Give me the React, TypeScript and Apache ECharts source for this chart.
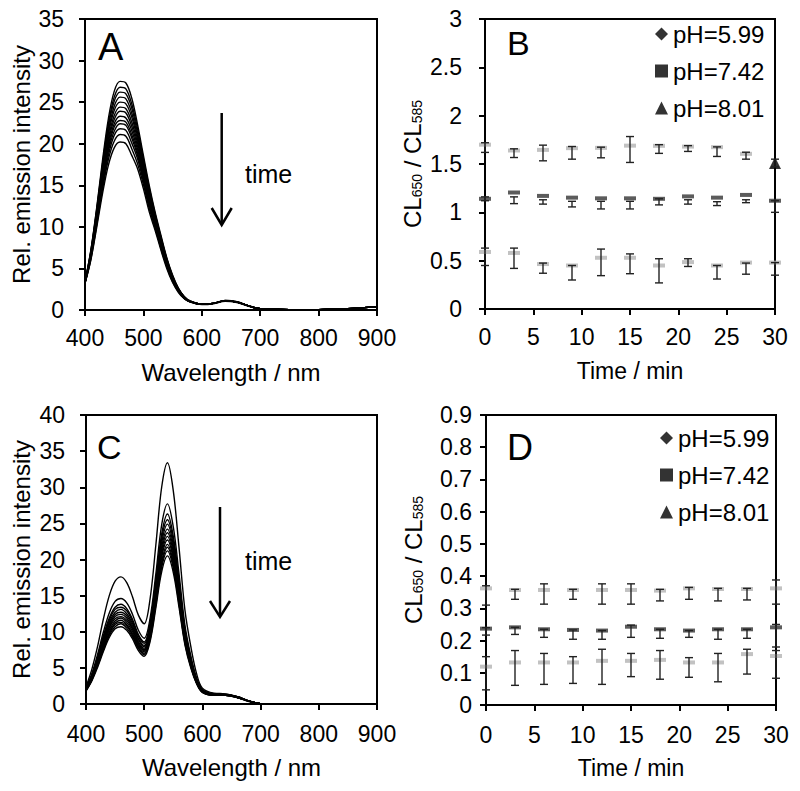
import React, { useEffect, useRef } from "react";
import * as echarts from "echarts";

const FONT = "Liberation Sans, Arial, Helvetica, sans-serif";

// ---------- Panel A: emission spectra ----------
const WAVELENGTH_A = [400, 410, 420, 430, 440, 450, 460, 470, 480, 490, 500, 510, 520, 530, 540, 550, 560, 570, 580, 600, 620, 640, 660, 680, 700, 750, 800, 850, 900];
const A_01 = [3.4, 7.2, 12.3, 18.0, 23.0, 26.3, 27.5, 27.3, 25.5, 22.3, 18.6, 15.0, 11.8, 9.0, 6.3, 4.2, 2.6, 1.6, 1.1, 0.7, 0.8, 1.15, 1.0, 0.5, 0.15, 0.05, 0.05, 0.15, 0.4];
const A_02 = [3.4, 7.1, 12.1, 17.6, 22.4, 25.6, 26.8, 26.6, 24.8, 21.8, 18.2, 14.7, 11.6, 8.8, 6.2, 4.1, 2.6, 1.6, 1.1, 0.7, 0.8, 1.15, 1.0, 0.5, 0.15, 0.05, 0.05, 0.15, 0.4];
const A_03 = [3.4, 7.0, 11.9, 17.3, 22.0, 25.1, 26.2, 26.0, 24.3, 21.3, 17.9, 14.4, 11.4, 8.7, 6.1, 4.0, 2.5, 1.6, 1.0, 0.7, 0.8, 1.1, 0.95, 0.5, 0.15, 0.05, 0.05, 0.15, 0.4];
const A_04 = [3.3, 6.9, 11.7, 17.0, 21.5, 24.5, 25.6, 25.4, 23.7, 20.9, 17.6, 14.2, 11.2, 8.5, 6.0, 4.0, 2.5, 1.5, 1.0, 0.7, 0.8, 1.1, 0.95, 0.5, 0.15, 0.05, 0.05, 0.15, 0.4];
const A_05 = [3.3, 6.8, 11.5, 16.6, 21.1, 24.0, 25.0, 24.8, 23.2, 20.5, 17.2, 13.9, 11.1, 8.4, 5.9, 3.9, 2.4, 1.5, 1.0, 0.7, 0.8, 1.1, 0.95, 0.5, 0.15, 0.05, 0.05, 0.15, 0.4];
const A_06 = [3.3, 6.7, 11.3, 16.3, 20.6, 23.4, 24.4, 24.2, 22.6, 20.1, 16.9, 13.7, 10.9, 8.2, 5.8, 3.8, 2.4, 1.5, 1.0, 0.7, 0.8, 1.1, 0.95, 0.5, 0.15, 0.05, 0.05, 0.15, 0.4];
const A_07 = [3.3, 6.6, 11.1, 16.0, 20.2, 22.9, 23.9, 23.7, 22.1, 19.7, 16.6, 13.4, 10.7, 8.1, 5.7, 3.8, 2.4, 1.5, 1.0, 0.7, 0.8, 1.1, 0.95, 0.5, 0.15, 0.05, 0.05, 0.15, 0.4];
const A_08 = [3.3, 6.5, 10.9, 15.7, 19.8, 22.4, 23.3, 23.1, 21.6, 19.3, 16.3, 13.2, 10.5, 8.0, 5.6, 3.7, 2.3, 1.5, 1.0, 0.7, 0.8, 1.1, 0.95, 0.5, 0.15, 0.05, 0.05, 0.15, 0.4];
const A_09 = [3.3, 6.4, 10.8, 15.4, 19.4, 22.0, 22.8, 22.6, 21.1, 18.9, 16.0, 13.0, 10.4, 7.8, 5.5, 3.6, 2.3, 1.4, 1.0, 0.7, 0.8, 1.1, 0.95, 0.5, 0.15, 0.05, 0.05, 0.15, 0.4];
const A_10 = [3.3, 6.4, 10.6, 15.2, 19.1, 21.5, 22.4, 22.2, 20.7, 18.6, 15.8, 12.8, 10.3, 7.7, 5.4, 3.6, 2.3, 1.4, 1.0, 0.7, 0.8, 1.1, 0.95, 0.5, 0.15, 0.05, 0.05, 0.15, 0.4];
const A_11 = [3.2, 6.3, 10.4, 14.9, 18.6, 21.0, 21.8, 21.6, 20.1, 18.2, 15.5, 12.5, 10.1, 7.6, 5.3, 3.5, 2.2, 1.4, 1.0, 0.7, 0.8, 1.1, 0.95, 0.5, 0.15, 0.05, 0.05, 0.15, 0.4];
const A_12 = [3.2, 6.1, 10.2, 14.5, 18.1, 20.3, 21.1, 20.9, 19.4, 17.6, 15.1, 12.2, 9.9, 7.4, 5.2, 3.4, 2.2, 1.4, 1.0, 0.7, 0.8, 1.1, 0.95, 0.5, 0.15, 0.05, 0.05, 0.15, 0.4];
const A_13 = [3.2, 6.0, 9.9, 14.0, 17.4, 19.5, 20.2, 20.0, 18.6, 17.0, 14.6, 11.8, 9.6, 7.2, 5.0, 3.3, 2.1, 1.35, 0.95, 0.65, 0.75, 1.05, 0.9, 0.45, 0.12, 0.05, 0.05, 0.15, 0.4];
const SPECTRA_A = [A_01, A_02, A_03, A_04, A_05, A_06, A_07, A_08, A_09, A_10, A_11, A_12, A_13];

// ---------- Panel C: emission spectra ----------
const WAVELENGTH_C = [400, 410, 420, 430, 440, 450, 460, 470, 480, 490, 500, 510, 520, 530, 540, 550, 560, 570, 580, 590, 600, 620, 640, 660, 680, 700, 750, 800, 850, 900];
const C_01 = [2.4, 4.8, 8.0, 11.8, 15.0, 17.0, 17.6, 16.8, 14.8, 12.3, 11.1, 14.5, 22.0, 30.0, 33.4, 29.5, 21.5, 13.0, 8.0, 4.2, 2.2, 1.5, 1.4, 1.0, 0.4, 0.05, 0, 0, 0, 0.05];
const C_02 = [2.2, 4.2, 6.9, 10.0, 12.6, 14.2, 14.6, 14.0, 12.4, 10.2, 9.1, 11.8, 18.0, 24.8, 27.7, 24.5, 17.9, 10.9, 6.7, 3.6, 2.0, 1.4, 1.35, 1.0, 0.4, 0.05, 0, 0, 0, 0.05];
const C_03 = [2.1, 4.0, 6.5, 9.5, 11.9, 13.4, 13.8, 13.2, 11.7, 9.6, 8.6, 11.2, 17.1, 23.5, 26.3, 23.2, 17.0, 10.4, 6.4, 3.4, 1.9, 1.4, 1.3, 1.0, 0.4, 0.05, 0, 0, 0, 0.05];
const C_04 = [2.1, 3.9, 6.4, 9.2, 11.6, 13.1, 13.4, 12.9, 11.4, 9.4, 8.4, 10.8, 16.6, 22.9, 25.5, 22.6, 16.5, 10.1, 6.2, 3.4, 1.9, 1.3, 1.3, 1.0, 0.4, 0.05, 0, 0, 0, 0.05];
const C_05 = [2.0, 3.8, 6.2, 8.9, 11.3, 12.7, 13.1, 12.5, 11.1, 9.1, 8.1, 10.6, 16.2, 22.3, 24.9, 22.0, 16.1, 9.9, 6.0, 3.3, 1.8, 1.3, 1.3, 1.0, 0.4, 0.05, 0, 0, 0, 0.05];
const C_06 = [2.0, 3.7, 6.0, 8.7, 11.0, 12.4, 12.7, 12.2, 10.8, 8.9, 7.9, 10.3, 15.7, 21.7, 24.2, 21.5, 15.7, 9.6, 5.9, 3.2, 1.8, 1.3, 1.3, 1.0, 0.4, 0.05, 0, 0, 0, 0.05];
const C_07 = [2.0, 3.6, 5.9, 8.5, 10.7, 12.1, 12.4, 11.9, 10.5, 8.6, 7.7, 10.0, 15.4, 21.2, 23.7, 21.0, 15.3, 9.4, 5.7, 3.2, 1.8, 1.3, 1.3, 0.9, 0.4, 0.05, 0, 0, 0, 0.05];
const C_08 = [1.9, 3.6, 5.8, 8.3, 10.5, 11.8, 12.1, 11.6, 10.3, 8.4, 7.5, 9.8, 15.0, 20.7, 23.2, 20.5, 15.0, 9.2, 5.6, 3.1, 1.7, 1.3, 1.3, 0.9, 0.4, 0.05, 0, 0, 0, 0.05];
const C_09 = [1.9, 3.5, 5.6, 8.1, 10.2, 11.5, 11.9, 11.3, 10.0, 8.2, 7.4, 9.6, 14.7, 20.3, 22.7, 20.1, 14.7, 9.0, 5.5, 3.0, 1.7, 1.3, 1.2, 0.9, 0.4, 0.05, 0, 0, 0, 0.05];
const C_10 = [1.9, 3.4, 5.5, 7.9, 9.9, 11.2, 11.6, 11.0, 9.7, 8.0, 7.2, 9.3, 14.3, 19.7, 22.1, 19.6, 14.3, 8.8, 5.4, 3.0, 1.7, 1.2, 1.2, 0.9, 0.4, 0.05, 0, 0, 0, 0.05];
const C_11 = [1.9, 3.4, 5.4, 7.7, 9.7, 11.0, 11.3, 10.8, 9.5, 7.8, 7.0, 9.1, 14.1, 19.3, 21.7, 19.2, 14.0, 8.6, 5.3, 2.9, 1.7, 1.2, 1.2, 0.9, 0.4, 0.05, 0, 0, 0, 0.05];
const C_12 = [1.8, 3.3, 5.3, 7.5, 9.5, 10.7, 11.1, 10.5, 9.3, 7.7, 6.8, 8.9, 13.7, 18.9, 21.2, 18.8, 13.7, 8.4, 5.2, 2.9, 1.6, 1.2, 1.2, 0.9, 0.4, 0.05, 0, 0, 0, 0.05];
const C_13 = [1.8, 3.2, 5.1, 7.3, 9.2, 10.4, 10.7, 10.2, 9.0, 7.4, 6.6, 8.6, 13.3, 18.3, 20.5, 18.2, 13.3, 8.2, 5.0, 2.8, 1.6, 1.2, 1.2, 0.9, 0.35, 0.05, 0, 0, 0, 0.05];
const SPECTRA_C = [C_01, C_02, C_03, C_04, C_05, C_06, C_07, C_08, C_09, C_10, C_11, C_12, C_13];

// ---------- Panels B and D: ratio vs time ----------
const TIME_MIN = [0, 3, 6, 9, 12, 15, 18, 21, 24, 27, 30];
const PH_LABELS = ["pH=5.99", "pH=7.42", "pH=8.01"];

const B_PH599_MEAN = [0.59, 0.58, 0.465, 0.45, 0.53, 0.53, 0.45, 0.485, 0.45, 0.48, 0.48];
const B_PH599_LOW = [0.45, 0.42, 0.37, 0.3, 0.345, 0.365, 0.27, 0.44, 0.31, 0.36, 0.35];
const B_PH599_HIGH = [0.63, 0.63, 0.475, 0.45, 0.62, 0.57, 0.52, 0.52, 0.45, 0.475, 0.48];
const B_PH742_MEAN = [1.14, 1.205, 1.17, 1.152, 1.145, 1.145, 1.14, 1.165, 1.152, 1.18, 1.12];
const B_PH742_LOW = [1.12, 1.09, 1.085, 1.056, 1.035, 1.035, 1.077, 1.085, 1.07, 1.1, 1.0];
const B_PH742_HIGH = [1.16, 1.16, 1.13, 1.114, 1.114, 1.114, 1.14, 1.13, 1.11, 1.13, 1.12];
const B_PH801_MEAN = [1.7, 1.64, 1.646, 1.664, 1.667, 1.69, 1.688, 1.68, 1.674, 1.605, 1.51];
const B_PH801_LOW = [1.62, 1.567, 1.533, 1.55, 1.564, 1.516, 1.61, 1.63, 1.578, 1.55, 1.47];
const B_PH801_HIGH = [1.72, 1.657, 1.695, 1.681, 1.674, 1.784, 1.7, 1.69, 1.677, 1.622, 1.55];

const D_PH599_MEAN = [0.119, 0.132, 0.132, 0.132, 0.137, 0.137, 0.14, 0.132, 0.132, 0.158, 0.152];
const D_PH599_LOW = [0.047, 0.061, 0.064, 0.067, 0.064, 0.088, 0.08, 0.086, 0.072, 0.096, 0.083];
const D_PH599_HIGH = [0.15, 0.169, 0.16, 0.15, 0.173, 0.16, 0.169, 0.147, 0.16, 0.173, 0.169];
const D_PH742_MEAN = [0.237, 0.241, 0.235, 0.233, 0.231, 0.243, 0.235, 0.231, 0.235, 0.235, 0.241];
const D_PH742_LOW = [0.217, 0.219, 0.21, 0.204, 0.204, 0.21, 0.207, 0.21, 0.204, 0.207, 0.18];
const D_PH742_HIGH = [0.24, 0.241, 0.235, 0.233, 0.231, 0.248, 0.235, 0.231, 0.235, 0.235, 0.25];
const D_PH801_MEAN = [0.362, 0.357, 0.357, 0.357, 0.357, 0.357, 0.355, 0.362, 0.36, 0.36, 0.362];
const D_PH801_LOW = [0.31, 0.328, 0.313, 0.328, 0.313, 0.313, 0.323, 0.328, 0.323, 0.326, 0.313];
const D_PH801_HIGH = [0.37, 0.359, 0.376, 0.359, 0.376, 0.376, 0.359, 0.365, 0.362, 0.362, 0.388];

const RATIO_NAME = "{m|CL}{s|650}{m| / CL}{s|585}";

function valueAxis(gridIndex: number, min: number, max: number, interval: number, name: string, nameGap: number, labelMargin: number, labelSize: number, nameSize: number) {
  return {
    type: "value",
    gridIndex,
    min,
    max,
    interval,
    name,
    nameLocation: "middle",
    nameGap,
    nameTextStyle: {
      color: "#000",
      fontSize: nameSize,
      fontFamily: FONT,
      rich: {
        m: { fontSize: 24, lineHeight: 24, verticalAlign: "bottom", fontFamily: FONT, color: "#000" },
        s: { fontSize: 14, lineHeight: 14, verticalAlign: "bottom", fontFamily: FONT, color: "#000" },
      },
    },
    axisLine: { show: true, onZero: false, lineStyle: { color: "#000", width: 2 } },
    axisTick: { show: true, inside: false, length: 6, lineStyle: { color: "#000", width: 2 } },
    axisLabel: { color: "#000", fontSize: labelSize, fontFamily: FONT, margin: labelMargin },
    splitLine: { show: false },
  } as any;
}

function spectrumSeries(wl: number[], curves: number[][], axisIndex: number, prefix: string) {
  return curves.map((c, i) => ({
    type: "line",
    name: `${prefix}${i + 1}`,
    xAxisIndex: axisIndex,
    yAxisIndex: axisIndex,
    data: wl.map((w, j) => [w, c[j]]),
    showSymbol: false,
    symbol: "none",
    smooth: 0.35,
    lineStyle: { color: "#000", width: 1.4 },
    silent: true,
    z: 2,
  }));
}

function errorBarSeries(axisIndex: number, low: number[], high: number[]) {
  return {
    type: "custom",
    xAxisIndex: axisIndex,
    yAxisIndex: axisIndex,
    data: TIME_MIN.map((t, i) => [t, low[i], high[i]]),
    encode: { x: 0, y: [1, 2] },
    clip: false,
    silent: true,
    z: 5,
    renderItem: (params: any, api: any) => {
      const x = api.value(0);
      const lo = api.coord([x, api.value(1)]);
      const hi = api.coord([x, api.value(2)]);
      const w = 4;
      const st = { stroke: "#222", lineWidth: 1.4 };
      return {
        type: "group",
        children: [
          { type: "line", shape: { x1: lo[0], y1: lo[1], x2: hi[0], y2: hi[1] }, style: st },
          { type: "line", shape: { x1: lo[0] - w, y1: lo[1], x2: lo[0] + w, y2: lo[1] }, style: st },
          { type: "line", shape: { x1: hi[0] - w, y1: hi[1], x2: hi[0] + w, y2: hi[1] }, style: st },
        ],
      };
    },
  } as any;
}

function meanSeries(axisIndex: number, name: string, mean: number[], color: string, lastTriangle: boolean) {
  return {
    type: "scatter",
    name,
    xAxisIndex: axisIndex,
    yAxisIndex: axisIndex,
    data: TIME_MIN.map((t, i) =>
      lastTriangle && i === TIME_MIN.length - 1
        ? { value: [t, mean[i]], symbol: "triangle", symbolSize: 12, itemStyle: { color: "#000" } }
        : [t, mean[i]]
    ),
    symbol: "rect",
    symbolSize: [12, 4],
    itemStyle: { color },
    clip: false,
    silent: true,
    z: 3,
  } as any;
}

function legendFor(left: number, top: number) {
  return {
    left,
    top,
    orient: "vertical",
    itemGap: 13,
    itemWidth: 13,
    itemHeight: 13,
    selectedMode: false,
    textStyle: { color: "#000", fontSize: 24, fontFamily: FONT },
    data: [
      { name: PH_LABELS[0], icon: "diamond", itemStyle: { color: "#000" } },
      { name: PH_LABELS[1], icon: "rect", itemStyle: { color: "#000" } },
      { name: PH_LABELS[2], icon: "triangle", itemStyle: { color: "#000" } },
    ],
  } as any;
}

function textEl(text: string, x: number, y: number, size: number) {
  return {
    type: "text",
    x,
    y,
    silent: true,
    style: { text, fill: "#000", fontSize: size, fontFamily: FONT, verticalAlign: "middle", align: "left" },
  } as any;
}

function arrowEls(x: number, yTop: number, yTip: number, wingY: number, wingHalf: number) {
  return [
    { type: "line", silent: true, shape: { x1: x, y1: yTop, x2: x, y2: yTip - 1 }, style: { stroke: "#000", lineWidth: 2.5 } },
    {
      type: "polyline",
      silent: true,
      shape: { points: [[x - wingHalf, wingY], [x, yTip], [x + wingHalf, wingY]] },
      style: { stroke: "#000", lineWidth: 2.5, fill: "none" },
    },
  ] as any[];
}

export default function App() {
  const ref = useRef<HTMLDivElement>(null);

  useEffect(() => {
    if (!ref.current) return;
    const chart = echarts.init(ref.current, undefined, { renderer: "svg" });
    const gridStyle = { show: true, borderColor: "#000", borderWidth: 2, containLabel: false };
    const option: any = {
      animation: false,
      backgroundColor: "#fff",
      grid: [
        { left: 85, top: 19, width: 292, height: 291, ...gridStyle },
        { left: 485, top: 19, width: 290, height: 290, ...gridStyle },
        { left: 86, top: 415, width: 291, height: 289, ...gridStyle },
        { left: 486, top: 415, width: 290, height: 290, ...gridStyle },
      ],
      xAxis: [
        valueAxis(0, 400, 900, 100, "Wavelength / nm", 50, 16, 23, 24),
        valueAxis(1, 0, 30, 5, "Time / min", 50, 16, 23, 23),
        valueAxis(2, 400, 900, 100, "Wavelength / nm", 51, 18, 23, 24),
        valueAxis(3, 0, 30, 5, "Time / min", 51, 18, 23, 23),
      ],
      yAxis: [
        valueAxis(0, 0, 35, 5, "Rel. emission intensity", 52, 21, 23, 24),
        valueAxis(1, 0, 3, 0.5, RATIO_NAME, 61, 23, 23, 23),
        valueAxis(2, 0, 40, 5, "Rel. emission intensity", 53, 21, 23, 24),
        valueAxis(3, 0, 0.9, 0.1, RATIO_NAME, 61, 14, 23, 23),
      ],
      legend: [legendFor(650, 17), legendFor(655, 421)],
      series: [
        ...spectrumSeries(WAVELENGTH_A, SPECTRA_A, 0, "A"),
        ...spectrumSeries(WAVELENGTH_C, SPECTRA_C, 2, "C"),
        meanSeries(1, PH_LABELS[0], B_PH599_MEAN, "#b3b3b3", false),
        meanSeries(1, PH_LABELS[1], B_PH742_MEAN, "#333", false),
        meanSeries(1, PH_LABELS[2], B_PH801_MEAN, "#b3b3b3", true),
        errorBarSeries(1, B_PH599_LOW, B_PH599_HIGH),
        errorBarSeries(1, B_PH742_LOW, B_PH742_HIGH),
        errorBarSeries(1, B_PH801_LOW, B_PH801_HIGH),
        meanSeries(3, PH_LABELS[0], D_PH599_MEAN, "#b3b3b3", false),
        meanSeries(3, PH_LABELS[1], D_PH742_MEAN, "#333", false),
        meanSeries(3, PH_LABELS[2], D_PH801_MEAN, "#b3b3b3", false),
        errorBarSeries(3, D_PH599_LOW, D_PH599_HIGH),
        errorBarSeries(3, D_PH742_LOW, D_PH742_HIGH),
        errorBarSeries(3, D_PH801_LOW, D_PH801_HIGH),
      ],
      graphic: [
        textEl("A", 98, 47, 38),
        textEl("B", 507, 43, 34),
        textEl("C", 97, 447, 34),
        textEl("D", 507, 447, 36),
        textEl("time", 245, 174, 25),
        textEl("time", 245, 561, 25),
        ...arrowEls(221.7, 113, 225, 208, 10),
        ...arrowEls(220, 507, 617, 601, 10),
      ],
    };
    chart.setOption(option);
    return () => chart.dispose();
  }, []);

  return <div ref={ref} style={{ position: "absolute", left: 0, top: 0, width: 800, height: 791, background: "#fff" }} />;
}
